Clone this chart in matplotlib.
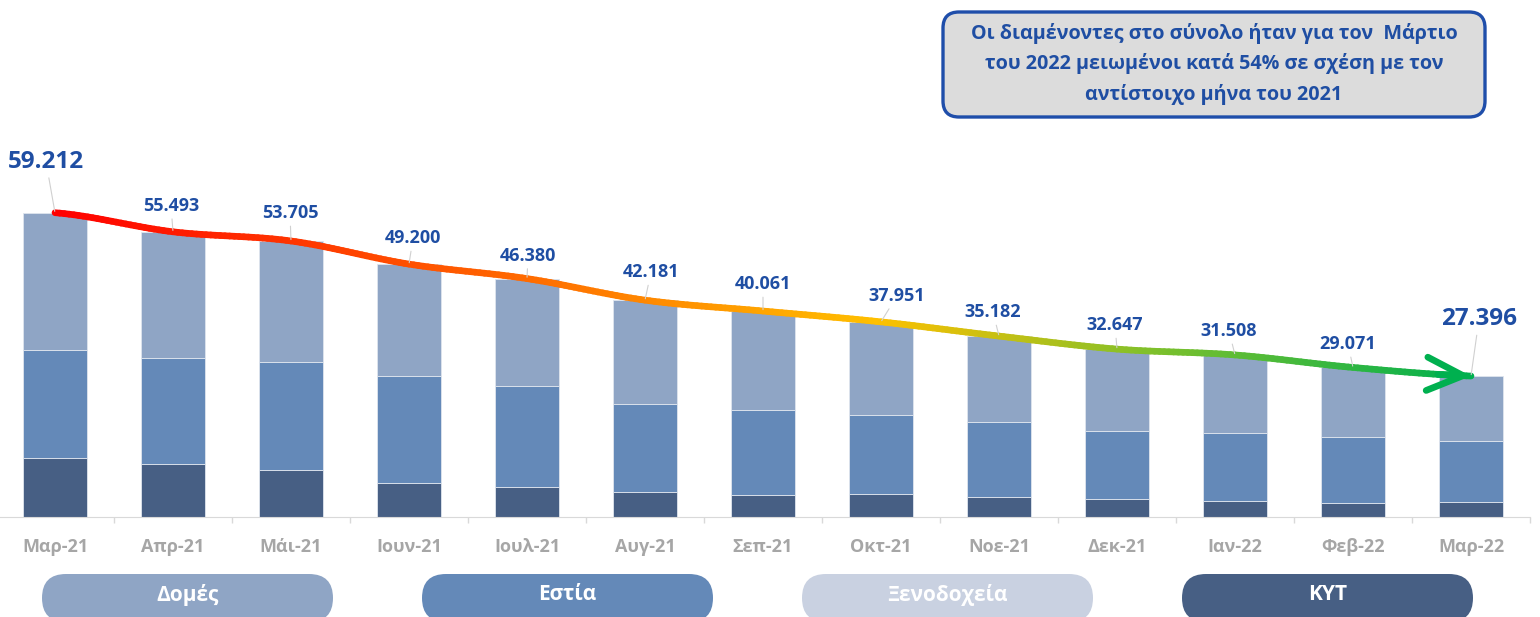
import numpy as np
import matplotlib
matplotlib.use('Agg')
import matplotlib.pyplot as plt
from matplotlib.collections import LineCollection
from matplotlib.colors import LinearSegmentedColormap
from matplotlib.patches import FancyBboxPatch, FancyArrowPatch

plt.rcParams['font.family'] = ['Open Sans', 'DejaVu Sans']

# data
months = ['Μαρ-21', 'Απρ-21', 'Μάι-21', 'Ιουν-21', 'Ιουλ-21', 'Αυγ-21', 'Σεπ-21',
          'Οκτ-21', 'Νοε-21', 'Δεκ-21', 'Ιαν-22', 'Φεβ-22', 'Μαρ-22']
totals = [59212, 55493, 53705, 49200, 46380, 42181, 40061, 37951, 35182, 32647, 31508, 29071, 27396]
kyt = [11500, 10200, 9150, 6600, 5700, 4750, 4150, 4350, 3800, 3400, 3100, 2700, 2900]
estia = [20900, 20750, 20900, 20850, 19800, 17250, 16600, 15400, 14550, 13250, 13150, 12750, 11800]
xenodoxeia = [0, 0, 0, 0, 0, 0, 0, 0, 0, 0, 0, 0, 0]
domes = [t - k - e - h for t, k, e, h in zip(totals, kyt, estia, xenodoxeia)]

legend_names = ['Δομές', 'Εστία', 'Ξενοδοχεία', 'ΚΥΤ']
note = ('Οι διαμένοντες στο σύνολο ήταν για τον  Μάρτιο\n'
        'του 2022 μειωμένοι κατά 54% σε σχέση με τον\n'
        'αντίστοιχο μήνα του 2021')

c_domes = '#8FA5C5'
c_estia = '#6489B8'
c_xen = '#C9D1E1'
c_kyt = '#475F84'
blue = '#1F4EA3'

# label offsets in pixels (dx, dy) relative to bar top
offsets = [(-9, 51), (-2, 26), (-1, 28), (4, 26), (1, 23), (6, 28), (0, 27),
           (16, 26), (-6, 24), (-2, 24), (-6, 24), (-5, 23.5), (8, 57)]

fig = plt.figure(figsize=(15.4, 6.17), dpi=100)
ax = fig.add_axes([-4 / 1540, 100.3 / 617, 1534 / 1540, 516.7 / 617])
x = np.arange(len(months))
w = 0.54
ax.bar(x, kyt, w, color=c_kyt, edgecolor='#dfe5ee', linewidth=0.6, zorder=2)
b = np.array(kyt)
ax.bar(x, estia, w, bottom=b, color=c_estia, edgecolor='#dfe5ee', linewidth=0.6, zorder=2)
b = b + np.array(estia)
ax.bar(x, xenodoxeia, w, bottom=b, color=c_xen, linewidth=0, zorder=2)
b = b + np.array(xenodoxeia)
ax.bar(x, domes, w, bottom=b, color=c_domes, edgecolor='#dfe5ee', linewidth=0.6, zorder=2)

ax.set_xlim(-0.5, 12.5)
ax.set_ylim(0, 100643)
for s in ['top', 'right', 'left']:
    ax.spines[s].set_visible(False)
ax.spines['bottom'].set_color('#D9D9D9')
ax.set_yticks([])
ax.set_xticks(x)
ax.set_xticklabels(months, fontsize=13, fontweight='bold', color='#A6A6A6')
ax.tick_params(axis='x', which='major', length=0, pad=15)
ax.set_xticks(np.arange(-0.5, 13, 1), minor=True)
ax.tick_params(axis='x', which='minor', length=4.5, color='#D9D9D9', width=1)

# smooth gradient trend line (catmull-rom rendering of the totals)
yv = np.array(totals, dtype=float)
pts_x, pts_y = [], []
for i in range(len(yv) - 1):
    p0 = yv[max(i - 1, 0)]
    p1 = yv[i]
    p2 = yv[i + 1]
    p3 = yv[min(i + 2, len(yv) - 1)]
    for t in np.linspace(0, 1, 25, endpoint=False):
        pts_x.append(i + t)
        pts_y.append(0.5 * ((2 * p1) + (-p0 + p2) * t + (2 * p0 - 5 * p1 + 4 * p2 - p3) * t ** 2
                            + (-p0 + 3 * p1 - 3 * p2 + p3) * t ** 3))
pts_x.append(12)
pts_y.append(yv[-1])
pts = np.column_stack([pts_x, pts_y])
segs = np.stack([pts[:-1], pts[1:]], axis=1)
cmap = LinearSegmentedColormap.from_list('trend', [(0, '#FF0000'), (0.33, '#FF6A00'),
                                                   (0.58, '#FFC000'), (0.78, '#7CC02C'),
                                                   (1.0, '#00B04F')])
lc = LineCollection(segs, colors=cmap(pts[:-1, 0] / 12), linewidths=4.8, capstyle='round', zorder=4)
ax.add_collection(lc)
arr = FancyArrowPatch(posA=(pts_x[-8], pts_y[-8]), posB=(12, yv[-1]),
                      arrowstyle='->,head_length=1.3,head_width=0.6', mutation_scale=20,
                      color='#00B04F', lw=4.8, shrinkA=0, shrinkB=0, capstyle='round',
                      joinstyle='round', zorder=5)
ax.add_patch(arr)

for i, t in enumerate(totals):
    big = i in (0, len(totals) - 1)
    ax.annotate(f'{t:,}'.replace(',', '.'), xy=(i, t), xytext=offsets[i],
                textcoords='offset pixels', ha='center', va='center',
                fontsize=17.5 if big else 13, fontweight='bold', color=blue,
                arrowprops=dict(arrowstyle='-', color='#D0D0D0', lw=0.8, shrinkA=1, shrinkB=1),
                zorder=6)

# overlay in pixel coordinates for the note box and the legend pills
ov = fig.add_axes([0, 0, 1, 1])
ov.set_xlim(0, 1540)
ov.set_ylim(617, 0)
ov.axis('off')
ov.patch.set_alpha(0)

ov.add_patch(FancyBboxPatch((943, 12), 542, 105, boxstyle='round,pad=0,rounding_size=16',
                            facecolor='#DCDCDC', edgecolor='#1F4EAA', linewidth=2.4))
ov.text(1214, 64, note, ha='center', va='center', fontsize=14.2, fontweight='bold',
        color=blue, linespacing=1.6)

pill_cols = [c_domes, c_estia, c_xen, c_kyt]
pill_x = [42, 422, 802, 1182]
for name, col, px in zip(legend_names, pill_cols, pill_x):
    ov.add_patch(FancyBboxPatch((px, 574), 291, 48, boxstyle='round,pad=0,rounding_size=24',
                                facecolor=col, edgecolor='none', clip_on=False))
    ov.text(px + 145.5, 595, name, ha='center', va='center', fontsize=15,
            fontweight='bold', color='white')

fig.savefig('out.png', dpi=100)
